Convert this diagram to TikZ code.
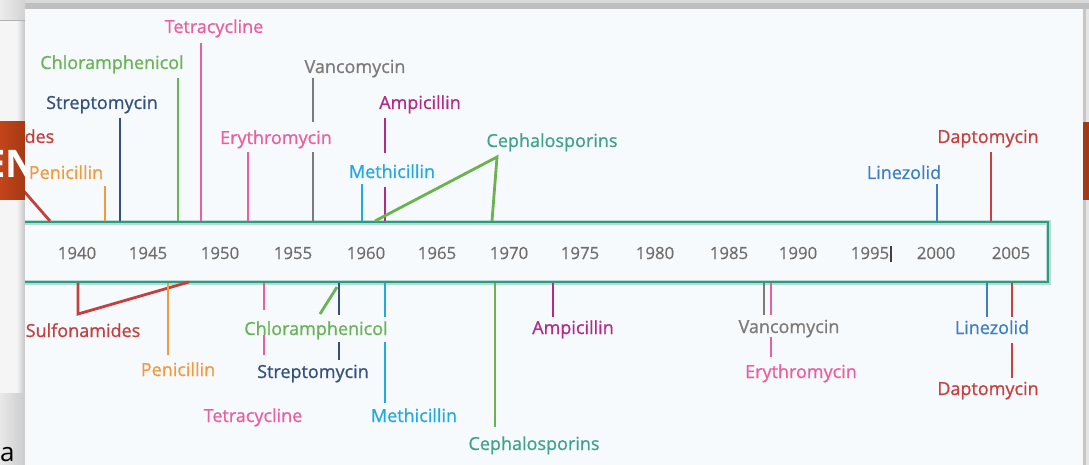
\documentclass[tikz,border=0pt]{standalone}
\usepackage{fontspec}
\setmainfont{Open Sans}
\newfontfamily\lblfont{Open Sans}[FakeBold=0.9]
\newfontfamily\yrfont{Open Sans}[FakeBold=0.4]
\definecolor{panelbg}{HTML}{F6FAFD}
\definecolor{axisc}{HTML}{2E9B80}
\definecolor{yeargray}{HTML}{6E6E6E}
\definecolor{csulf}{HTML}{C4403E}
\definecolor{cpen}{HTML}{F39A3A}
\definecolor{cstrep}{HTML}{34507F}
\definecolor{cchlor}{HTML}{6AB457}
\definecolor{ctet}{HTML}{EC5E9E}
\definecolor{cvan}{HTML}{7B7B7B}
\definecolor{cmeth}{HTML}{23A9E1}
\definecolor{camp}{HTML}{B42A8A}
\definecolor{cephl}{HTML}{3FA38C}
\definecolor{cephline}{HTML}{6AB34F}
\definecolor{clin}{HTML}{3E7FC4}
\definecolor{cdap}{HTML}{C8413F}
\definecolor{banner}{HTML}{C4441A}
\definecolor{bannerdk}{HTML}{A33A14}
\begin{document}
\begin{tikzpicture}[x=1pt,y=-1pt,
  lbl/.style={anchor=base, inner sep=0pt, font=\lblfont\fontsize{18}{18}\selectfont},
  yr/.style={anchor=base, inner sep=0pt, text=yeargray, font=\yrfont\fontsize{16.8}{17}\selectfont},
  tl/.style={line width=2.8pt}]
\useasboundingbox (0,0) rectangle (1089,465);
% ---- surrounding screenshot background ----
\fill[white] (0,0) rectangle (1089,465);
\fill[gray!8] (0,0) rectangle (25,465);
\shade[left color=gray!10, right color=gray!45] (17,9) rectangle (25,465);
\fill[gray!30] (0,0) rectangle (1089,3);
\fill[gray!50] (25,3) rectangle (1089,9);
\shade[left color=gray!15, right color=gray!35] (0,0) rectangle (25,20);
\draw[gray!60, line width=0.8pt] (0,20) -- (25,20);
\fill[gray!45] (1083,9) rectangle (1086,465);
\fill[gray!20] (1086,9) rectangle (1089,465);
\shade[left color=gray!18, right color=gray!40] (0,393) rectangle (25,465);
\shade[left color=banner, right color=bannerdk] (0,122) rectangle (25,200);
\fill[bannerdk] (1083,122) rectangle (1089,200);
\begin{scope}
  \clip (0,122) rectangle (25,200);
  \node (en) [anchor=base west, inner sep=0pt, text=white, font=\fontsize{38}{38}\selectfont\bfseries] at (-16,178) {EN};
\end{scope}
\node (aa) [anchor=base west, inner sep=0pt, font=\fontsize{26}{26}\selectfont] at (0,461) {a};
% ---- panel ----
\fill[panelbg] (25,9) rectangle (1083,465);
\begin{scope}
\clip (25,9) rectangle (1083,465);
% axis box
\draw[axisc!35, line width=5pt] (10,222) rectangle (1048,282);
\node (axis) [draw=axisc, line width=2.6pt, inner sep=0pt, minimum width=1038pt, minimum height=60pt] at (529,252) {};
% years
\foreach \yv/\xv in {1940/77,1945/148,1950/220,1955/293,1960/366,1965/437,1970/509,1975/580,1980/655,1985/729,1990/798,1995/870,2000/936,2005/1011}
  \node (y\yv) [yr] at (\xv,259) {\yv};
\draw[black!75, line width=1.5pt] (891,246) -- (891,262);
% ---- top labels ----
\node (sulfT)  [lbl, text=csulf]  at (-3,143) {Sulfonamides};
\node (penT)   [lbl, text=cpen]   at (66,179) {Penicillin};
\node (strepT) [lbl, text=cstrep] at (102,109) {Streptomycin};
\node (chlorT) [lbl, text=cchlor] at (112,69) {Chloramphenicol};
\node (tetT)   [lbl, text=ctet]   at (214,33) {Tetracycline};
\node (eryT)   [lbl, text=ctet]   at (276,144) {Erythromycin};
\node (vanT)   [lbl, text=cvan]   at (355,73) {Vancomycin};
\node (methT)  [lbl, text=cmeth]  at (392,178) {Methicillin};
\node (ampT)   [lbl, text=camp]   at (420,109) {Ampicillin};
\node (cephT)  [lbl, text=cephl]  at (552,147) {Cephalosporins};
\node (linT)   [lbl, text=clin]   at (904,179) {Linezolid};
\node (dapT)   [lbl, text=cdap]   at (988,143) {Daptomycin};
% top connectors
\draw[tl, csulf]  (-12,150) -- (50,221);
\draw[tl, cpen]   (105,186) -- (105,221);
\draw[tl, cstrep] (120,118) -- (120,221);
\draw[tl, cchlor] (178,78) -- (178,221);
\draw[tl, ctet]   (201,43) -- (201,221);
\draw[tl, ctet]   (248,152) -- (248,221);
\draw[tl, cvan]   (313,78) -- (313,122) (313,152) -- (313,221);
\draw[tl, cmeth]  (362,184) -- (362,221);
\draw[tl, camp]   (385,118) -- (385,153) (385,187) -- (385,221);
\draw[tl, cephline, line join=miter] (375,221) -- (497,157) -- (492,221);
\draw[tl, clin]   (937,184) -- (937,221);
\draw[tl, cdap]   (991,152) -- (991,221);
% ---- bottom labels ----
\node (sulfB)  [lbl, text=csulf]  at (83,337) {Sulfonamides};
\node (penB)   [lbl, text=cpen]   at (178,376) {Penicillin};
\node (tetB)   [lbl, text=ctet]   at (253,422) {Tetracycline};
\node (chlorB) [lbl, text=cchlor] at (316,335) {Chloramphenicol};
\node (strepB) [lbl, text=cstrep] at (313,378) {Streptomycin};
\node (methB)  [lbl, text=cmeth]  at (414,422) {Methicillin};
\node (cephB)  [lbl, text=cephl]  at (534,450) {Cephalosporins};
\node (ampB)   [lbl, text=camp]   at (573,334) {Ampicillin};
\node (vanB)   [lbl, text=cvan]   at (789,333) {Vancomycin};
\node (eryB)   [lbl, text=ctet]   at (801,378) {Erythromycin};
\node (linB)   [lbl, text=clin]   at (992,334) {Linezolid};
\node (dapB)   [lbl, text=cdap]   at (988,395) {Daptomycin};
% bottom connectors
\draw[tl, csulf, line join=miter] (78,283) -- (78,314) -- (189,282);
\draw[tl, cpen]   (168,283) -- (168,355);
\draw[tl, ctet]   (264,283) -- (264,310) (264,335) -- (264,355);
\draw[tl, cchlor] (337,287) -- (320,314);
\draw[tl, cstrep] (339,283) -- (339,315) (339,342) -- (339,360);
\draw[tl, cmeth]  (385,283) -- (385,317) (385,342) -- (385,403);
\draw[tl, cephline] (495,283) -- (495,427);
\draw[tl, camp]   (553,283) -- (553,317);
\draw[tl, cvan]   (764,283) -- (764,315);
\draw[tl, ctet]   (771,283) -- (771,315) (771,337) -- (771,357);
\draw[tl, clin]   (987,283) -- (987,317);
\draw[tl, cdap]   (1012,283) -- (1012,317) (1012,343) -- (1012,378);
\end{scope}
\end{tikzpicture}
\end{document}
